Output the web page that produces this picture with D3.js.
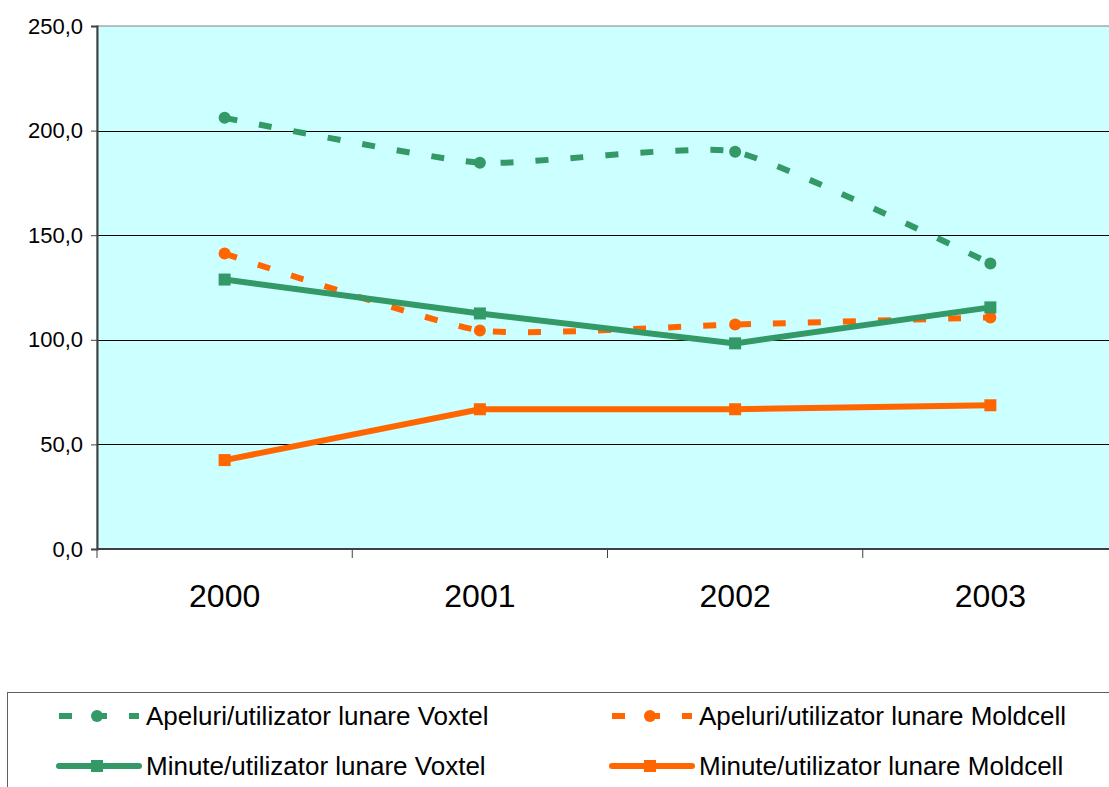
<!DOCTYPE html>
<html>
<head>
<meta charset="utf-8">
<script src="https://cdn.jsdelivr.net/npm/d3@7"></script>
<style>
  body { margin: 0; background: white; }
  svg { display: block; font-family: "Liberation Sans", Arial, sans-serif; }
</style>
</head>
<body>
<div id="container"></div>
<script>
let w = 1109;
let h = 787;

// data
let years = ["2000", "2001", "2002", "2003"];
let apeluriVoxtel = [206.1, 184.6, 189.9, 136.5];
let apeluriMoldcell = [141.2, 104.5, 107.3, 110.7];
let minuteVoxtel = [128.8, 112.6, 98.3, 115.5];
let minuteMoldcell = [42.5, 66.8, 66.8, 68.7];
let yTicks = [0, 50, 100, 150, 200, 250];

let green = "#339966";
let orange = "#ff6600";

let series = [
  {name: "Apeluri/utilizator lunare Voxtel", values: apeluriVoxtel, color: green, dashed: true},
  {name: "Apeluri/utilizator lunare Moldcell", values: apeluriMoldcell, color: orange, dashed: true},
  {name: "Minute/utilizator lunare Voxtel", values: minuteVoxtel, color: green, dashed: false},
  {name: "Minute/utilizator lunare Moldcell", values: minuteMoldcell, color: orange, dashed: false}
];

let plotLeft = 97, plotRight = 1118, plotTop = 26, plotBottom = 549;

let viz = d3.select("#container")
  .append("svg")
    .attr("width", w)
    .attr("height", h)
;

let x = d3.scaleBand().domain(years).range([plotLeft, plotRight]);
let y = d3.scaleLinear().domain([0, 250]).range([plotBottom, plotTop]);

// plot background
viz.append("rect")
  .attr("x", plotLeft)
  .attr("y", plotTop)
  .attr("width", plotRight - plotLeft)
  .attr("height", plotBottom - plotTop)
  .style("fill", "#ccffff")
  .style("stroke", "#808080")
  .style("stroke-width", 1);

// gridlines
viz.append("g")
  .selectAll("line").data(yTicks.filter(d => d > 0 && d < 250)).enter()
  .append("line")
    .attr("x1", plotLeft)
    .attr("x2", plotRight)
    .attr("y1", d => Math.round(y(d)) + 0.5)
    .attr("y2", d => Math.round(y(d)) + 0.5)
    .style("stroke", "black")
    .style("stroke-width", 1);

// y axis
let yAxis = d3.axisLeft(y)
  .tickValues(yTicks)
  .tickSize(6)
  .tickPadding(8)
  .tickFormat(d => d3.format(".1f")(d).replace(".", ","));

let yG = viz.append("g")
  .attr("transform", "translate(" + plotLeft + ",0)")
  .call(yAxis);
yG.select(".domain").style("stroke", "#404040").style("stroke-width", 2);
yG.selectAll(".tick line").style("stroke", "#404040");
yG.selectAll("text")
  .style("font-size", "22px")
  .style("fill", "black")
  .style("font-family", "Liberation Sans, Arial, sans-serif");

// x axis
let xG = viz.append("g")
  .attr("transform", "translate(0," + plotBottom + ")");
xG.append("line")
  .attr("x1", plotLeft).attr("x2", plotRight)
  .attr("y1", 0).attr("y2", 0)
  .style("stroke", "#404040")
  .style("stroke-width", 2);
xG.selectAll(".xtick").data(years.concat(["end"])).enter()
  .append("line")
    .attr("class", "xtick")
    .attr("x1", (d, i) => i < years.length ? x(d) : plotRight)
    .attr("x2", (d, i) => i < years.length ? x(d) : plotRight)
    .attr("y1", 0)
    .attr("y2", 9)
    .style("stroke", "#404040")
    .style("stroke-width", 1);
xG.selectAll(".xlabel").data(years).enter()
  .append("text")
    .attr("x", d => x(d) + x.bandwidth() / 2)
    .attr("y", 58)
    .attr("text-anchor", "middle")
    .style("font-size", "32px")
    .text(d => d);

let cx = (d, i) => x(years[i]) + x.bandwidth() / 2;

// excel-style smoothing is milder than catmull-rom
let smoothLine = d3.line()
  .x(cx)
  .y(d => y(d))
  .curve(d3.curveCardinal.tension(0.5));

let straightLine = d3.line()
  .x(cx)
  .y(d => y(d));

let seriesGroups = viz.selectAll(".series").data(series).enter()
  .append("g")
    .attr("class", "series");

seriesGroups.append("path")
  .attr("d", d => d.dashed ? smoothLine(d.values) : straightLine(d.values))
  .style("fill", "none")
  .style("stroke", d => d.color)
  .style("stroke-width", 6)
  .style("stroke-dasharray", d => d.dashed ? "13 22" : null);

seriesGroups.each(function(s) {
  let g = d3.select(this);
  if (s.dashed) {
    g.selectAll("circle").data(s.values).enter()
      .append("circle")
        .attr("cx", cx)
        .attr("cy", d => y(d))
        .attr("r", 6)
        .style("fill", s.color);
  } else {
    g.selectAll("rect").data(s.values).enter()
      .append("rect")
        .attr("x", (d, i) => cx(d, i) - 6)
        .attr("y", d => y(d) - 6)
        .attr("width", 12)
        .attr("height", 12)
        .style("fill", s.color);
  }
});

// legend
let legend = viz.append("g");
legend.append("rect")
  .attr("x", 7.5)
  .attr("y", 692.5)
  .attr("width", 1120)
  .attr("height", 120)
  .style("fill", "white")
  .style("stroke", "#606060")
  .style("stroke-width", 1);

let legendPos = [
  {x: 57, y: 716}, {x: 610, y: 716},
  {x: 57, y: 766}, {x: 610, y: 766}
];

let items = legend.selectAll(".item").data(series).enter()
  .append("g")
    .attr("class", "item")
    .attr("transform", (d, i) => "translate(" + legendPos[i].x + "," + legendPos[i].y + ")");

items.append("line")
  .attr("x1", d => d.dashed ? 2 : 2).attr("x2", d => d.dashed ? 82 : 82)
  .attr("y1", 0).attr("y2", 0)
  .style("stroke", d => d.color)
  .style("stroke-width", 6)
  .style("stroke-linecap", d => d.dashed ? "butt" : "round")
  .style("stroke-dasharray", d => d.dashed ? "13 22" : null);

items.each(function(s) {
  let g = d3.select(this);
  if (s.dashed) {
    g.append("circle").attr("cx", 40).attr("cy", 0).attr("r", 6).style("fill", s.color);
  } else {
    g.append("rect").attr("x", 34).attr("y", -6).attr("width", 12).attr("height", 12).style("fill", s.color);
  }
});

items.append("text")
  .attr("x", 89)
  .attr("y", 9)
  .style("font-size", "26px")
  .text(d => d.name);
</script>
</body>
</html>
